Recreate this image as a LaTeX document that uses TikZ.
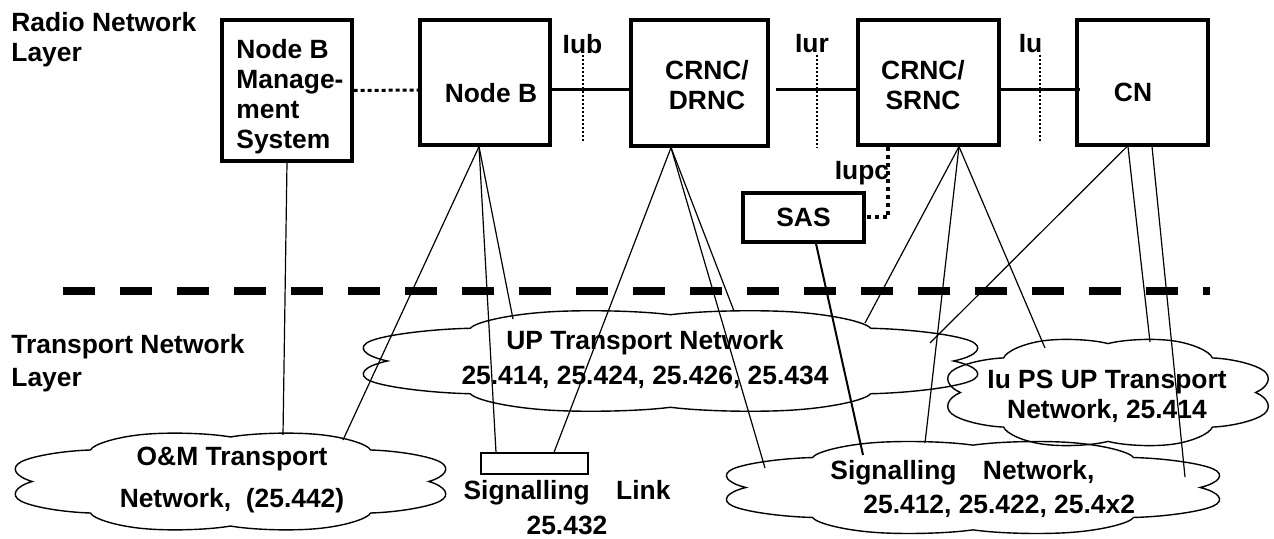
\documentclass[tikz,border=0pt]{standalone}
\usepackage{fontspec}
\setmainfont{Liberation Sans}
\usetikzlibrary{shapes.symbols,calc}

\begin{document}
\begin{tikzpicture}[x=0.5pt,y=-0.5pt,
  font=\bfseries\fontsize{13.2}{15}\selectfont,
  netbox/.style={draw,line width=1.6pt,inner sep=0pt},
  netcloud/.style={cloud,draw,line width=0.7pt,cloud puffs=8,cloud puff arc=120,
    aspect=1,minimum width=100pt,minimum height=100pt,inner sep=0pt,transform shape},
  link/.style={line width=0.6pt},
  ifline/.style={line width=1.5pt},
  ifmark/.style={line width=1pt,dash pattern=on 1pt off 1pt}]
  \useasboundingbox (0,0) rectangle (1274,539);

  % radio network layer
  \node[anchor=west,align=left,inner sep=0pt] (radio) at (11,40) {Radio Network\\Layer};
  \node[netbox,minimum width=65pt,minimum height=70.5pt] (mgmt) at (287,90.5) {};
  \node[anchor=west,align=left,inner sep=0pt] (mgmtTxt) at (236,97) {Node B\\Manage-\\ment\\System};
  \node[netbox,minimum width=65pt,minimum height=62.5pt] (nodeB) at (485,82.5) {};
  \node (nodeBTxt) at (491,93) {Node B};
  \node[netbox,minimum width=68.5pt,minimum height=63pt] (crncD) at (699.5,83) {};
  \node[align=center] (crncDTxt) at (707,85) {CRNC/\\DRNC};
  \node[netbox,minimum width=70.5pt,minimum height=62.5pt] (crncS) at (928.5,82.5) {};
  \node[align=center] (crncSTxt) at (923,85) {CRNC/\\SRNC};
  \node[netbox,minimum width=65.5pt,minimum height=62.5pt] (cn) at (1142.5,82.5) {};
  \node (cnTxt) at (1133,92.5) {CN};
  \node[netbox,minimum width=60.5pt,minimum height=24.5pt] (sas) at (803.5,217.5) {SAS};

  % interfaces
  \node (iub) at (582.5,44) {Iub};
  \node (iur) at (812,44) {Iur};
  \node (iu) at (1030.5,44) {Iu};
  \node (iupc) at (862,173) {Iupc};
  \coordinate (iubTop) at (583,55);
  \coordinate (iubBot) at (583,141);
  \coordinate (iurTop) at (817,55);
  \coordinate (iurBot) at (817,148);
  \coordinate (iuTop) at (1040,55);
  \coordinate (iuBot) at (1040,142);
  \draw[ifmark] (iubTop) -- (iubBot);
  \draw[ifmark] (iurTop) -- (iurBot);
  \draw[ifmark] (iuTop) -- (iuBot);

  \draw[ifline] ($(nodeB.east)+(0,7.5)$) -- ($(crncD.west)+(0,7)$);
  \draw[ifline] ($(crncD.east)+(6,7)$) -- ($(crncS.west)+(0,7.5)$);
  \draw[ifline] ($(crncS.east)+(0,7.5)$) -- ($(cn.west)+(5,7.5)$);
  \draw[line width=1.5pt,dash pattern=on 2pt off 1.5pt] (mgmt.east) -- ($(nodeB.west)+(0,7.5)$);
  \draw[line width=2pt,dash pattern=on 2pt off 2pt] ($(crncS.south)+(-40.5,0)$) |- (sas.east);

  % layer border
  \coordinate (borderL) at (63,291);
  \coordinate (borderR) at (1210,291);
  \draw[line width=3.75pt,dash pattern=on 16pt off 12.5pt] (borderL) -- (borderR);

  % transport network layer
  \node[anchor=west,align=left,inner sep=0pt] (transport) at (11,363) {Transport Network\\[1.5pt]Layer};
  \node[netcloud,xscale=2.27,yscale=0.51,rotate=22.5] (omNet) at (230.5,481.5) {};
  \node[align=center] (omTxt) at (232,480) {O\&M Transport\\[6pt]Network,\ \ (25.442)};
  \node[netcloud,xscale=3.24,yscale=0.53,rotate=22.5] (upNet) at (670.5,361) {};
  \node[align=center] (upTxt) at (645,359) {UP Transport Network\\[2.5pt]25.414, 25.424, 25.426, 25.434};
  \node[netcloud,xscale=1.69,yscale=0.56,rotate=22.5] (iupsNet) at (1108,392.5) {};
  \node[align=center] (iupsTxt) at (1107,396) {Iu PS UP Transport\\Network, 25.414};
  \node[netcloud,xscale=2.6,yscale=0.485,rotate=22.5] (sigNet) at (973,487.5) {};
  \node[anchor=west,align=left,inner sep=0pt] (sigNetTxt) at (830,489) {Signalling\hspace{1em}Network,\\[2pt]\hspace*{16.5pt}25.412, 25.422, 25.4x2};
  \node[draw,line width=0.6pt,minimum width=53.5pt,minimum height=10.5pt,inner sep=0pt] (sigLink) at (534.5,463.5) {};
  \node[align=center] (sigLinkTxt) at (567,507.5) {Signalling\hspace{1em}Link\\[2.5pt]25.432};

  % links between layers
  \draw[link] (mgmt.south) -- ($(omNet)+(52.5,-46.5)$);
  \draw[link] ($(nodeB.south)+(-6,0)$) -- ($(omNet)+(112.5,-41.5)$);
  \draw[link] ($(nodeB.south)+(-6,0)$) -- ($(sigLink.north)+(-38.5,0)$);
  \draw[link] ($(nodeB.south)+(-6,0)$) -- ($(upNet)+(-157.5,-42)$);
  \draw[link] ($(crncD.south)+(-28.5,0)$) -- ($(sigLink.north)+(19.5,0)$);
  \draw[link] ($(crncD.south)+(-28.5,0)$) -- ($(upNet)+(63.5,-50)$);
  \draw[link] ($(crncD.south)+(-28.5,0)$) -- ($(sigNet)+(-208,-19.5)$);
  \draw[line width=1pt] ($(sas.south)+(12.5,0)$) -- ($(sigNet)+(-110,-32.5)$);
  \draw[link] ($(crncS.south)+(30.5,0)$) -- ($(upNet)+(194.5,-38)$);
  \draw[link] ($(crncS.south)+(30.5,0)$) -- ($(sigNet)+(-48,-44.5)$);
  \draw[link] ($(crncS.south)+(30.5,0)$) -- ($(iupsNet)+(-63,-44.5)$);
  \draw[link] ($(cn.south)+(-15.5,0)$) -- ($(upNet)+(259.5,-18)$);
  \draw[link] ($(cn.south)+(-14.5,0)$) -- ($(iupsNet)+(42,-50.5)$);
  \draw[link] ($(cn.south)+(9.5,0)$) -- ($(sigNet)+(212,-10.5)$);
\end{tikzpicture}
\end{document}
